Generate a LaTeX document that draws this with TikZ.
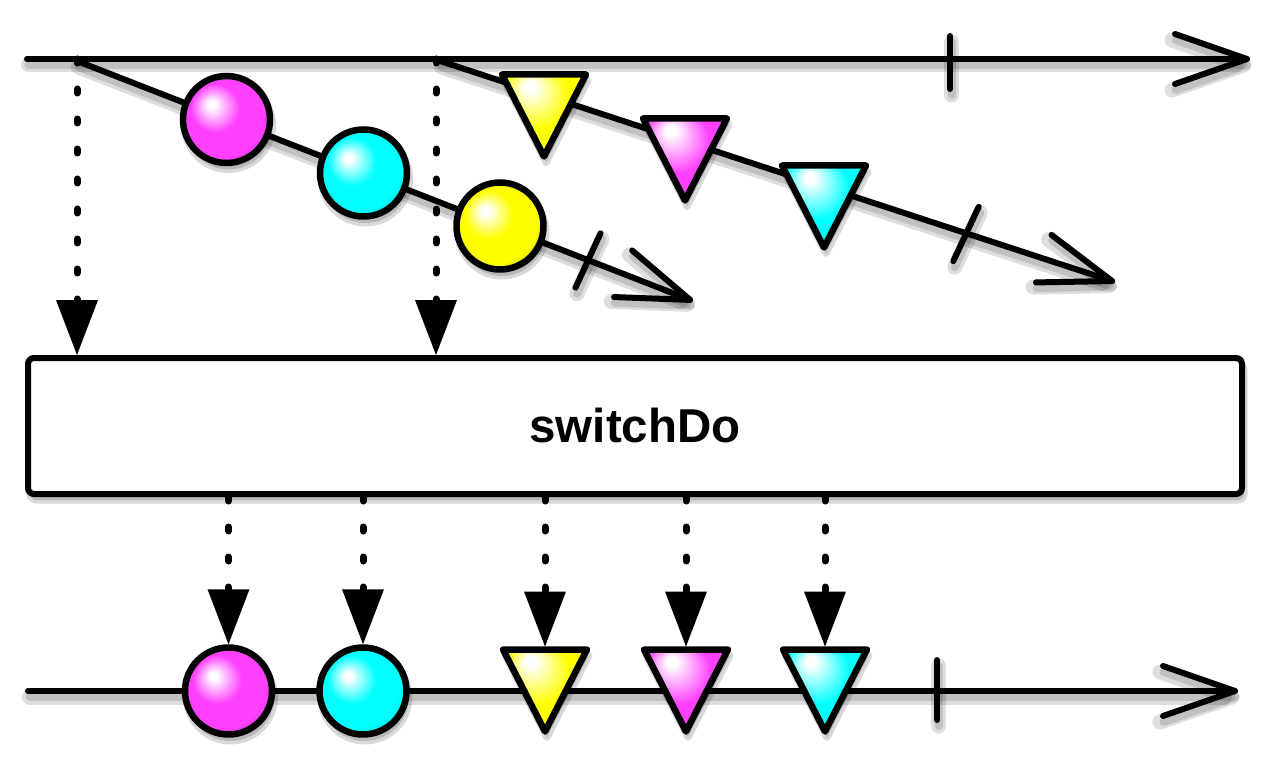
\documentclass[tikz,border=0pt]{standalone}
\usepackage{fontspec}
\setmainfont{Liberation Sans}
\usetikzlibrary{arrows.meta}
\definecolor{mg}{HTML}{FF40FF}
\definecolor{cy}{HTML}{00FFFF}
\definecolor{ye}{HTML}{FFFF00}
\pgfdeclarelayer{bg}
\pgfsetlayers{bg,main}
\pgfdeclareradialshading{ballmg}{\pgfpoint{-9bp}{9bp}}{color(0bp)=(white); color(2bp)=(white); color(14bp)=(mg); color(26bp)=(mg); color(37bp)=(mg!62!black); color(50bp)=(mg!62!black)}
\pgfdeclareradialshading{ballcy}{\pgfpoint{-9bp}{9bp}}{color(0bp)=(white); color(2bp)=(white); color(14bp)=(cy); color(26bp)=(cy); color(37bp)=(cy!62!black); color(50bp)=(cy!62!black)}
\pgfdeclareradialshading{ballye}{\pgfpoint{-9bp}{9bp}}{color(0bp)=(white); color(2bp)=(white); color(14bp)=(ye); color(26bp)=(ye); color(37bp)=(ye!62!black); color(50bp)=(ye!62!black)}
\pgfdeclareradialshading{trimg}{\pgfpoint{-9bp}{19bp}}{color(0bp)=(white); color(3bp)=(white); color(20bp)=(mg); color(34bp)=(mg); color(46bp)=(mg!60!black); color(50bp)=(mg!60!black)}
\pgfdeclareradialshading{tricy}{\pgfpoint{-9bp}{19bp}}{color(0bp)=(white); color(3bp)=(white); color(20bp)=(cy); color(34bp)=(cy); color(46bp)=(cy!60!black); color(50bp)=(cy!60!black)}
\pgfdeclareradialshading{triye}{\pgfpoint{-9bp}{19bp}}{color(0bp)=(white); color(3bp)=(white); color(20bp)=(ye); color(34bp)=(ye); color(46bp)=(ye!60!black); color(50bp)=(ye!60!black)}
\tikzset{
  mline/.style={draw, line width=6pt, line cap=round, line join=round},
  openarr/.style={-{Straight Barb[length=72pt,width=50pt,round]}},
  dotarr/.style={draw, line width=7pt, line cap=round, dash pattern=on 4pt off 26pt, -{Triangle[width=42pt,length=55pt,line width=0pt]}},
  ball/.style={circle, draw, line width=6.5pt, minimum size=87pt, inner sep=0pt},
  tri/.style={draw, line width=6.5pt, line join=round},
  opbox/.style={draw, fill=white, line width=6pt, rounded corners=6pt, minimum width=1214pt, minimum height=136pt, inner sep=0pt, font=\fontsize{47.5}{56}\selectfont\bfseries},
  lsh/.style={draw=black, opacity=0.13, transform canvas={shift={(1.5pt,-6pt)}}, line cap=round, line join=round},
  fsh/.style={fill=black, draw=black, line width=7pt, opacity=0.15, transform canvas={shift={(2pt,-6pt)}}, line join=round}
}
\newcommand\shline[2][]{%
  \begin{pgfonlayer}{bg}
    \path[lsh,line width=15pt,#1] #2;
    \path[lsh,line width=8pt,#1] #2;
  \end{pgfonlayer}
  \path[mline,#1] #2;}
\newcommand\mtri[4]{%
  \begin{pgfonlayer}{bg}\path[fsh] (#1-42,#2) -- (#1+42,#2) -- (#1,#2+82) -- cycle;\end{pgfonlayer}
  \path[tri,shading=#3] (#1-42,#2) -- (#1+42,#2) -- (#1,#2+82) -- cycle;
  \coordinate (#4) at (#1,#2-3);}
\newcommand\mball[4]{%
  \begin{pgfonlayer}{bg}\path[fsh] (#1,#2) circle[radius=44pt];\end{pgfonlayer}
  \node[ball,shading=#3] (#4) at (#1,#2) {};}
\begin{document}
\begin{tikzpicture}[x=1pt,y=-1pt]
\useasboundingbox (0,0) rectangle (1280,770);
% coordinates
\coordinate (T0) at (27,59);
\coordinate (T1) at (1250,59);
\coordinate (S1a) at (77,61);
\coordinate (S1b) at (693,301);
\coordinate (S2a) at (440,61);
\coordinate (S2b) at (1115,282);
\coordinate (B0) at (28,691);
\coordinate (B1) at (1238,691);
\coordinate (d1) at (77,59);
\coordinate (d2) at (436,59);
% operator box
\begin{pgfonlayer}{bg}\path[fsh,rounded corners=6pt] (28,358) rectangle (1242,494);\end{pgfonlayer}
\node[opbox] (box) at (635,426) {switchDo};
% top dotted arrows
\path[dotarr] (d1) -- (d1 |- box.north);
\path[dotarr] (d2) -- (d2 |- box.north);
% top main line
\shline[openarr]{(T0) -- (T1)}
\shline{(950,36) -- (950,89)}
% inner streams
\shline[openarr]{(S1a) -- (S1b)}
\shline{(600.5,233.3) -- (575.5,287.7)}
\shline[openarr]{(S2a) -- (S2b)}
\shline{(978.7,206.8) -- (953.3,261.2)}
\mball{226.5}{119.5}{ballmg}{m1}
\mball{363.5}{173}{ballcy}{c1}
\mball{500}{226}{ballye}{y1}
\mtri{544}{74.5}{triye}{ty1}
\mtri{685}{118.5}{trimg}{tm1}
\mtri{824}{165.5}{tricy}{tc1}
% bottom line
\shline[openarr]{(B0) -- (B1)}
\shline{(937,660) -- (937,720)}
\mball{228.5}{691}{ballmg}{m2}
\mball{363}{691}{ballcy}{c2}
\mtri{545}{649.5}{triye}{ty2}
\mtri{686}{649.5}{trimg}{tm2}
\mtri{825}{649.5}{tricy}{tc2}
% bottom dotted arrows
\path[dotarr] (m2 |- box.south) -- (m2.north);
\path[dotarr] (c2 |- box.south) -- (c2.north);
\path[dotarr] (ty2 |- box.south) -- (ty2);
\path[dotarr] (tm2 |- box.south) -- (tm2);
\path[dotarr] (tc2 |- box.south) -- (tc2);
\end{tikzpicture}
\end{document}
